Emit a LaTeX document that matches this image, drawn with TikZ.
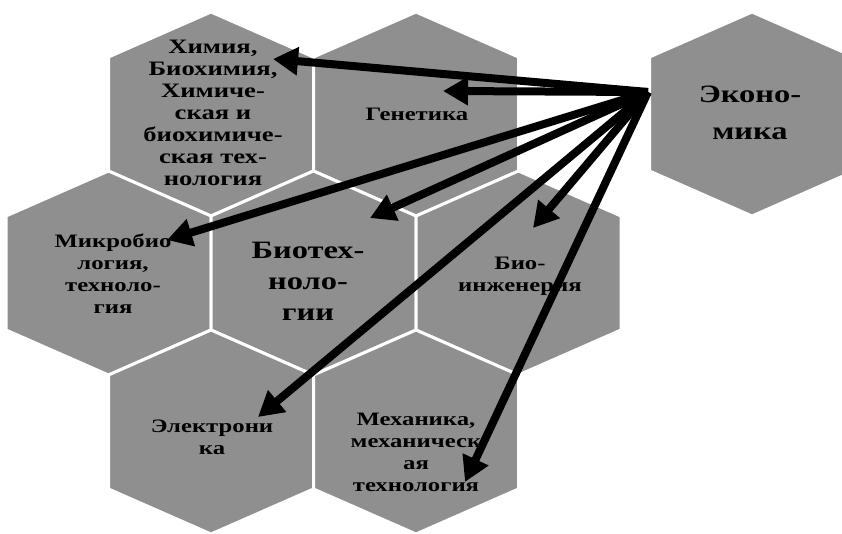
\documentclass[tikz,border=0pt]{standalone}
\usepackage{fontspec}
\setmainfont{Liberation Serif}
\newfontfamily\hexfont[FakeStretch=1.3]{Liberation Serif}
\usetikzlibrary{arrows.meta}
\definecolor{hexgray}{RGB}{143,143,143}
\tikzset{
  hexcell/.style={fill=hexgray, draw=white, line width=3pt, line join=miter},
  lbl/.style={align=center, inner sep=0pt, text=black,
    font=\hexfont\bfseries\fontsize{19}{22}\selectfont},
  chemlbl/.style={align=center, inner sep=0pt, text=black,
    font=\hexfont\bfseries\fontsize{20.5}{22}\selectfont},
  biglbl/.style={align=center, inner sep=0pt, text=black,
    font=\hexfont\bfseries\fontsize{25}{31}\selectfont},
  ecolbl/.style={align=center, inner sep=0pt, text=black,
    font=\hexfont\bfseries\fontsize{25}{37}\selectfont},
  arr/.style={line width=8pt, black, -{Triangle[length=25pt,width=27pt]}}
}
\newcommand\hexcellat[2]{%
  \path[hexcell, shift={(#1,#2)}] (0,-102) -- (102.5,-57) -- (102.5,57) -- (0,102)
    -- (-102.5,57) -- (-102.5,-57) -- cycle;}
\begin{document}
\begin{tikzpicture}[x=1pt, y=-1pt]
  \fill[white] (0,0) rectangle (842,533);
  \useasboundingbox (0,0) rectangle (842,533);
  \begin{scope}
    \clip (0,0) rectangle (842,533);
    % honeycomb
    \hexcellat{211}{114}
    \hexcellat{416}{114}
    \hexcellat{108.5}{273}
    \hexcellat{313.5}{273}
    \hexcellat{518.5}{273}
    \hexcellat{211}{432}
    \hexcellat{416}{432}
    % separate cell
    \hexcellat{752}{114}
  \end{scope}
  % labels
  \node[chemlbl] (chem) at (213,113) {Химия,\\Биохимия,\\Химиче-\\ская и\\биохимиче-\\ская тех-\\нология};
  \node[lbl] (gen) at (417,114) {Генетика};
  \node[lbl] (micro) at (113,274) {Микробио\\логия,\\техноло-\\гия};
  \node[biglbl] (bio) at (308,281) {Биотех-\\ноло-\\гии};
  \node[lbl] (bioeng) at (520,276) {Био-\\инженерия};
  \node[lbl] (elec) at (212,437) {Электрони\\ка};
  \node[lbl] (mech) at (416,452) {Механика,\\механическ\\ая\\технология};
  \node[ecolbl] (eco) at (750,113) {Эконо-\\мика};
  % arrow ends
  \coordinate (src) at (648,92);
  \coordinate (tchem) at (273,59);
  \coordinate (tgen) at (443,91);
  \coordinate (tmicro) at (167,240);
  \coordinate (tbio) at (370,218);
  \coordinate (tbioeng) at (533,228);
  \coordinate (telec) at (258,417);
  \coordinate (tmech) at (465,482);
  \draw[arr] (src) -- (tchem);
  \draw[arr] (src) -- (tgen);
  \draw[arr] (src) -- (tmicro);
  \draw[arr] (src) -- (tbio);
  \draw[arr] (src) -- (tbioeng);
  \draw[arr] (src) -- (telec);
  \draw[arr] (src) -- (tmech);
\end{tikzpicture}
\end{document}
